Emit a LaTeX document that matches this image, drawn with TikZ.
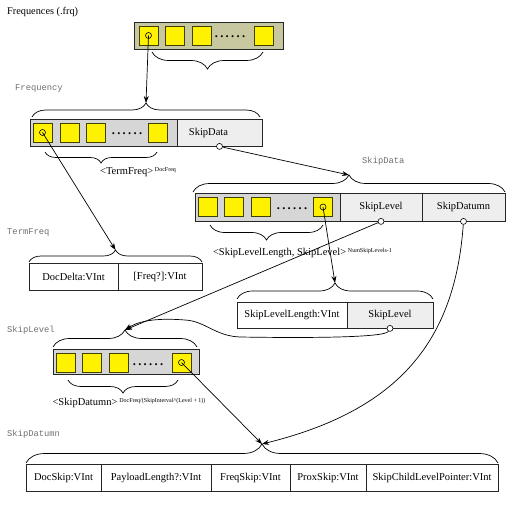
\documentclass[tikz,border=0pt]{standalone}
\usepackage{fontspec}
\setmainfont{Liberation Serif}
\newfontfamily\monof{Liberation Mono}
\usetikzlibrary{decorations.pathreplacing,arrows.meta,calc}
\definecolor{olivebox}{HTML}{C8C8A0}
\definecolor{graycell}{HTML}{D6D6D6}
\definecolor{lightcell}{HTML}{EEEEEE}
\definecolor{sqborder}{HTML}{404000}
\definecolor{lblgray}{HTML}{6E6E6E}
\newcommand\sixdots{\textbf{.\kern2.3pt.\kern2.3pt.\kern2.3pt.\kern2.3pt.\kern2.3pt.}}
\begin{document}
\begin{tikzpicture}[x=1pt,y=-1pt,
  cell/.style={draw=black!85, line width=0.8pt, inner sep=0pt, font=\fontsize{10.5}{12}\selectfont},
  sq/.style={draw=sqborder, line width=0.9pt, fill=yellow, minimum size=19pt, inner sep=0pt},
  dotrow/.style={anchor=base, inner sep=0pt, font=\fontsize{12.5}{14}\selectfont},
  ring/.style={circle, draw=black, line width=0.6pt, minimum size=6pt, inner sep=0pt},
  title/.style={anchor=west, inner sep=0pt, text=lblgray, font=\monof\fontsize{8.8}{10}\selectfont},
  sub/.style={inner sep=0pt, font=\fontsize{10.5}{12}\selectfont},
  brc/.style={draw=black, line width=0.7pt, decorate, decoration={brace, amplitude=#1}},
  link/.style={draw=black, line width=0.7pt, -{Stealth[length=7pt,width=5pt]}},
]
\useasboundingbox (0,0) rectangle (510,510);

% ---------- Frequences (.frq)
\node[anchor=west, inner sep=0pt, font=\fontsize{10.3}{12}\selectfont] (frqtitle) at (7,12) {Frequences (.frq)};
\node[cell, fill=olivebox, minimum width=149pt, minimum height=27pt] (frq) at (208.5,35.5) {};
\node[sq] (f1) at (148.5,35.5) {};
\node[sq] (f2) at (175,35.5) {};
\node[sq] (f3) at (201.5,35.5) {};
\node[dotrow] (fd) at (230,38) {\sixdots};
\node[sq] (f4) at (263.5,35.5) {};
\node[ring] (fc) at (f1.center) {};
\draw[brc=17] (263,52) -- (152,52);

% ---------- Frequency
\node[title] (freqtitle) at (15,89) {Frequency};
\node[cell, fill=graycell, minimum width=147pt, minimum height=27pt] (fqL) at (103.5,132.5) {};
\node[cell, fill=lightcell, minimum width=85pt, minimum height=27pt] (fqR) at (219.5,132.5) {};
\node[sub] (fqRtxt) at (208.5,132.5) {SkipData};
\node[sq] (q1) at (42.5,132.5) {};
\node[sq] (q2) at (69.5,132.5) {};
\node[sq] (q3) at (95.5,132.5) {};
\node[dotrow] (qd) at (127,135) {\sixdots};
\node[sq] (q4) at (157.5,132.5) {};
\node[ring] (qc) at (q1.center) {};
\node[ring, fill=white] (qs) at (fqR.south) {};
\draw[brc=14] (32,117) -- (260,117);
\coordinate (fqTip) at (146,103);
\draw[brc=11] (157,152) -- (45,152);
\node[sub] (fqLbl) at (138,172) {<TermFreq>\,\raisebox{3.5pt}{\fontsize{6}{7}\selectfont DocFreq}};

% ---------- SkipData
\node[title] (sdtitle) at (362,161) {SkipData};
\node[cell, fill=graycell, minimum width=145pt, minimum height=28pt] (sdL) at (267.5,207) {};
\node[cell, fill=lightcell, minimum width=82pt, minimum height=28pt] (sdM) at (381,207) {SkipLevel};
\node[cell, fill=lightcell, minimum width=83pt, minimum height=28pt] (sdR) at (463.5,207) {SkipDatumn};
\node[sq] (s1) at (207.5,207) {};
\node[sq] (s2) at (234,207) {};
\node[sq] (s3) at (260.5,207) {};
\node[dotrow] (sd) at (292,209.5) {\sixdots};
\node[sq] (s4) at (323,207) {};
\node[ring] (sc) at (s4.center) {};
\node[ring, fill=white] (smc) at (sdM.south) {};
\node[ring, fill=white] (src) at (sdR.south) {};
\draw[brc=17] (193,192) -- (505,192);
\coordinate (sdTip) at (349,175);
\draw[brc=15] (323,225) -- (210,225);
\node[sub] (sdLbl) at (302.5,253) {<SkipLevelLength, SkipLevel>\,\raisebox{3.5pt}{\fontsize{6}{7}\selectfont NumSkipLevels-1}};

% ---------- TermFreq
\node[title] (tftitle) at (7,233) {TermFreq};
\node[cell, fill=white, minimum width=89pt, minimum height=27pt] (tfL) at (73.5,276.5) {DocDelta:VInt};
\node[cell, fill=white, minimum width=84pt, minimum height=27pt] (tfR) at (160,276.5) {[Freq?]:VInt};
\draw[brc=12] (29,262) -- (202,262);
\coordinate (tfTip) at (115.5,250);

% ---------- SkipLevelLength / SkipLevel pair
\node[cell, fill=white, minimum width=110pt, minimum height=26pt] (slL) at (292,315) {SkipLevelLength:VInt};
\node[cell, fill=lightcell, minimum width=86pt, minimum height=26pt] (slR) at (390,315) {SkipLevel};
\node[ring, fill=white] (slc) at (slR.south) {};
\draw[brc=16] (237,299) -- (433,299);
\coordinate (slTip) at (335,283);

% ---------- SkipLevel
\node[title] (sltitle) at (7,330) {SkipLevel};
\node[cell, fill=graycell, minimum width=146pt, minimum height=25pt] (lv) at (126,361.5) {};
\node[sq] (l1) at (66,362.5) {};
\node[sq] (l2) at (92,362.5) {};
\node[sq] (l3) at (118.5,362.5) {};
\node[dotrow] (ld) at (148,365) {\sixdots};
\node[sq] (l4) at (181.5,362.5) {};
\node[ring] (lc) at (l4.center) {};
\draw[brc=17] (53,347) -- (197,347);
\coordinate (lvTip) at (125,330);
\draw[brc=13] (178,380) -- (68,380);
\node[sub] (lvLbl) at (129,403) {<SkipDatumn>\,\raisebox{3.5pt}{\fontsize{6}{7}\selectfont DocFreq/(SkipInterval\^{}(Level + 1))}};

% ---------- SkipDatumn
\node[title] (dmtitle) at (7,434) {SkipDatumn};
\node[cell, fill=white, minimum width=75pt, minimum height=27pt] (d1) at (63.5,477.5) {DocSkip:VInt};
\node[cell, fill=white, minimum width=110pt, minimum height=27pt] (d2) at (156,477.5) {PayloadLength?:VInt};
\node[cell, fill=white, minimum width=79pt, minimum height=27pt] (d3) at (250.5,477.5) {FreqSkip:VInt};
\node[cell, fill=white, minimum width=76pt, minimum height=27pt] (d4) at (328,477.5) {ProxSkip:VInt};
\node[cell, fill=white, minimum width=132pt, minimum height=27pt] (d5) at (432,477.5) {SkipChildLevelPointer:VInt};
\draw[brc=19] (26,463) -- (498,463);
\coordinate (dmTip) at (262,444);

% ---------- connectors
\draw[link] (fc.center) -- (fqTip);
\draw[link] (qc.center) -- (tfTip);
\draw[link] (qs) -- (sdTip);
\draw[link] (sc.center) -- (slTip);
\draw[link] (smc) -- (lvTip);
\draw[link] (slc) .. controls (385,338) and (300,338) .. (240,337)
  .. controls (215,336) and (205,321) .. (185,320)
  .. controls (160,318) and (140,320) .. (lvTip);
\draw[link] (lc.center) -- (dmTip);
\draw[link] (src) .. controls (455,340) and (400,410) .. (dmTip);
\end{tikzpicture}
\end{document}
